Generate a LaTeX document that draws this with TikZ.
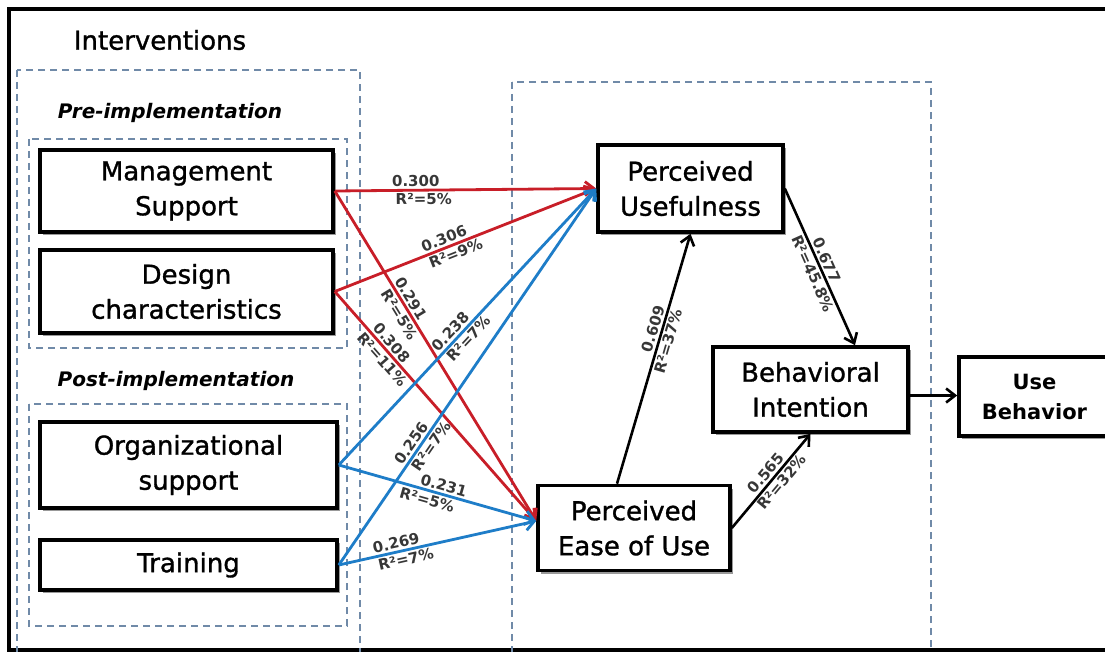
\documentclass[tikz,border=0pt]{standalone}
\usepackage{fontspec}
\setmainfont{DejaVu Sans}
\newfontfamily\boxfont[FakeBold=1.2]{DejaVu Sans}
\usetikzlibrary{arrows.meta, shadows}
\definecolor{redc}{RGB}{200,30,40}
\definecolor{bluec}{RGB}{30,125,200}
\definecolor{dashc}{RGB}{112,138,168}
\definecolor{labc}{RGB}{55,55,55}

\begin{document}
\begin{tikzpicture}[x=1pt, y=-1pt,
  >={Straight Barb[length=9pt, width=14pt]},
  box/.style={draw, line width=3.6pt, fill=white, align=center, inner sep=0pt,
    font=\fontsize{26}{35}\boxfont,
    drop shadow={shadow xshift=3pt, shadow yshift=-3pt, fill=black!40, opacity=1}},
  group/.style={draw=dashc, line width=2pt, dash pattern=on 7pt off 5pt},
  redarr/.style={->, draw=redc, line width=2.8pt},
  bluearr/.style={->, draw=bluec, line width=2.8pt},
  blkarr/.style={->, line width=2.6pt},
  lab/.style={sloped, inner sep=2pt, text=labc, font=\fontsize{15}{16}\selectfont\bfseries}]

  \clip (0,0) rectangle (1105,652);

  % rahmen und gruppen
  \draw[line width=3.5pt] (1120,9) -- (9,9) -- (9,650) -- (1120,650);
  \draw[group] (17,70) rectangle (360,665);
  \draw[group] (29,139) rectangle (347,348);
  \draw[group] (29,404) rectangle (347,626);
  \draw[group] (512,82) rectangle (931,665);

  \node[font=\fontsize{26}{30}\boxfont] (interv) at (160,40) {Interventions};
  \node[font=\fontsize{20}{24}\selectfont\bfseries\itshape] (pre) at (170,113) {Pre-implementation};
  \node[font=\fontsize{20}{24}\selectfont\bfseries\itshape] (post) at (176,381) {Post-implementation};

  % interventionen
  \node[box, minimum width=293pt, minimum height=82pt] (ms) at (186.5,191) {Management\\Support};
  \node[box, minimum width=293pt, minimum height=83pt] (dc) at (186.5,291.5) {Design\\characteristics};
  \node[box, minimum width=297pt, minimum height=86pt] (os) at (188.5,465) {Organizational\\support};
  \node[box, minimum width=297pt, minimum height=50pt] (tr) at (188.5,565) {Training};

  % modell
  \node[box, minimum width=185pt, minimum height=87pt] (pu) at (690.5,188.5) {Perceived\\Usefulness};
  \node[box, minimum width=192pt, minimum height=85pt] (peou) at (634,528) {Perceived\\Ease of Use};
  \node[box, minimum width=195pt, minimum height=85pt] (bi) at (810.5,389.5) {Behavioral\\Intention};
  \node[box, minimum width=151pt, minimum height=79pt, font=\fontsize{21}{30}\selectfont\bfseries]
    (ub) at (1034.5,396.5) {Use\\Behavior};

  % pfade pre
  \draw[redarr] (ms.east) -- (pu.west)
    node[lab, pos=0.31, above]{0.300} node[lab, pos=0.34, below]{R²=5\%};
  \draw[redarr] (dc.east) -- (pu.west)
    node[lab, pos=0.43, above]{0.306} node[lab, pos=0.45, below]{R²=9\%};
  \draw[redarr] (ms.east) -- ([yshift=7pt]peou.west)
    node[lab, pos=0.34, above]{0.291} node[lab, pos=0.36, below]{R²=5\%};
  \draw[redarr] (dc.east) -- ([yshift=7pt]peou.west)
    node[lab, pos=0.25, above]{0.308} node[lab, pos=0.27, below]{R²=11\%};

  % pfade post
  \draw[bluearr] (os.east) -- (pu.west)
    node[lab, pos=0.46, above]{0.238} node[lab, pos=0.48, below]{R²=7\%};
  \draw[bluearr] (tr.east) -- (pu.west)
    node[lab, pos=0.31, above]{0.256} node[lab, pos=0.33, below]{R²=7\%};
  \draw[bluearr] (os.east) -- ([yshift=7pt]peou.west)
    node[lab, pos=0.52, above]{0.231} node[lab, pos=0.46, below]{R²=5\%};
  \draw[bluearr] (tr.east) -- ([yshift=7pt]peou.west)
    node[lab, pos=0.30, above]{0.269} node[lab, pos=0.33, below]{R²=7\%};

  % tam
  \draw[blkarr] ([xshift=-17pt]peou.north) -- (pu.south)
    node[lab, pos=0.61, above]{0.609} node[lab, pos=0.58, below]{R²=37\%};
  \draw[blkarr] (pu.east) -- ([xshift=44.5pt]bi.north)
    node[lab, pos=0.48, above]{0.677} node[lab, pos=0.52, below]{R²=45.8\%};
  \draw[blkarr] (peou.east) -- (bi.south)
    node[lab, pos=0.52, above]{0.565} node[lab, pos=0.55, below]{R²=32\%};
  \draw[blkarr] ([yshift=-6pt]bi.east) -- ([yshift=-6pt]bi.east -| ub.west);
\end{tikzpicture}
\end{document}
